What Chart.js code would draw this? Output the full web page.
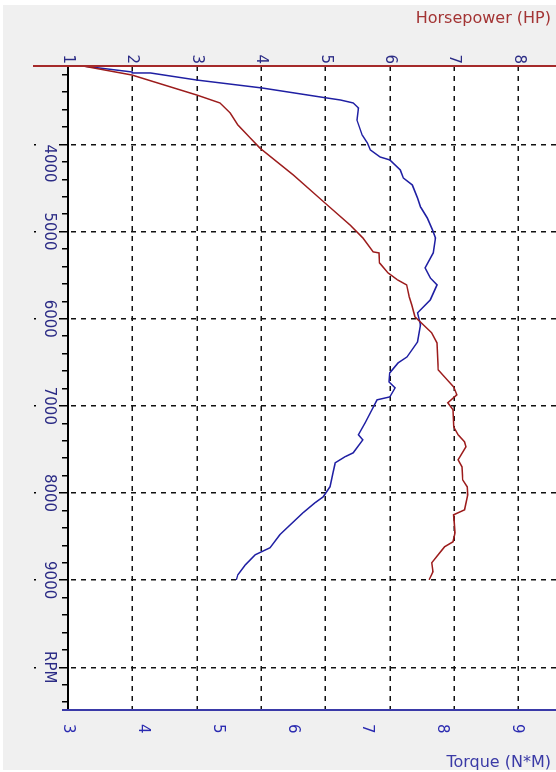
<!DOCTYPE html>
<html>
<head>
<meta charset="utf-8">
<title>Dyno run</title>
<script src="https://cdn.jsdelivr.net/npm/chart.js@4/dist/chart.umd.min.js"></script>
<style>
  html, body { margin: 0; padding: 0; background: #ffffff; width: 556px; height: 772px; overflow: hidden; }
  #panel { position: absolute; left: 3px; top: 5px; width: 553px; height: 765px; background: #f0f0f0; }
  /* the chart is laid out with RPM running left to right, then turned a quarter clockwise */
  #wrap { position: absolute; left: 0; top: 0; width: 772px; height: 556px;
          transform-origin: 0 0; transform: translate(556px, 0) rotate(90deg); }
  .axis-title { position: absolute; right: 5px; font-family: "DejaVu Sans", sans-serif; font-size: 16px; white-space: nowrap; }
  #hpTitle { top: 8px; color: #a33434; }
  #tqTitle { top: 752px; color: #3a3aa6; }
</style>
</head>
<body>
<div id="panel"></div>
<div id="wrap"><canvas id="dyno" width="772" height="556"></canvas></div>
<div id="hpTitle" class="axis-title">Horsepower (HP)</div>
<div id="tqTitle" class="axis-title">Torque (N*M)</div>
<script>
// Horsepower curve
const hpRpm = [3100, 3203, 3433, 3524, 3639, 3777, 3926, 4041, 4350, 4671,
               4924, 5073, 5233, 5245, 5360, 5474, 5555, 5612, 5750, 5841,
               5979, 6036, 6162, 6277, 6587, 6702, 6782, 6874, 6965, 7046,
               7241, 7332, 7413, 7470, 7619, 7699, 7849, 7929, 8021, 8193,
               8250, 8457, 8560, 8617, 8709, 8801, 8904, 8996];
const hpValues = [1.23, 1.99, 3.00, 3.36, 3.52, 3.64, 3.83, 3.98, 4.50, 4.99,
                  5.38, 5.58, 5.74, 5.83, 5.84, 5.97, 6.12, 6.26, 6.30, 6.34,
                  6.39, 6.47, 6.65, 6.73, 6.75, 6.89, 6.99, 7.04, 6.90, 6.98,
                  6.99, 7.06, 7.16, 7.18, 7.06, 7.12, 7.13, 7.20, 7.21, 7.16,
                  6.99, 7.01, 6.98, 6.85, 6.75, 6.65, 6.67, 6.61];

// Torque curve
const tqRpm = [3100, 3169, 3180, 3261, 3352, 3467, 3490, 3524, 3582, 3719,
               3891, 3983, 4063, 4144, 4178, 4293, 4385, 4465, 4614, 4717,
               4843, 4981, 5073, 5245, 5417, 5532, 5612, 5784, 5933, 6071,
               6266, 6438, 6507, 6621, 6725, 6793, 6897, 6931, 7046, 7195,
               7332, 7390, 7539, 7585, 7654, 7768, 7929, 8044, 8112, 8227,
               8365, 8479, 8628, 8709, 8824, 8938, 8996];
const tqValues = [3.20, 3.86, 4.10, 4.72, 5.59, 6.46, 6.64, 6.81, 6.88, 6.86,
                  6.93, 7.00, 7.04, 7.17, 7.30, 7.44, 7.48, 7.60, 7.67, 7.71,
                  7.80, 7.87, 7.91, 7.88, 7.77, 7.84, 7.93, 7.84, 7.67, 7.71,
                  7.67, 7.53, 7.41, 7.30, 7.29, 7.37, 7.30, 7.13, 7.06, 6.97,
                  6.88, 6.94, 6.81, 6.70, 6.57, 6.54, 6.50, 6.41, 6.30, 6.14,
                  5.97, 5.83, 5.70, 5.50, 5.37, 5.27, 5.25];

// RPM axis: labelled ticks every 1000, the last one carries the axis name
const rpmMajor  = [4000, 5000, 6000, 7000, 8000, 9000, 10000];
const rpmLabels = ['4000', '5000', '6000', '7000', '8000', '9000', 'RPM'];
const rpmMinorStep = 200;

// axis ranges
const rpmRange = [3100, 10490];
const hpRange  = [1, 8.58];
const tqRange  = [3, 9.52];

const tickFont  = { family: 'DejaVu Sans', size: 15 };
const tickColor = '#2b2b85';

const toPoints = (rpm, vals) => rpm.map((r, i) => ({ x: r, y: vals[i] }));
const isMajor = ctx => !!(ctx && ctx.tick) && rpmMajor.includes(ctx.tick.value);
const flatten = s => { s.paddingLeft = 0; s.paddingRight = 0; s.paddingTop = 0; s.paddingBottom = 0; };

// RPM tick marks every 200 inside the axis range
function rpmTicks(scale) {
  const out = [];
  const first = Math.ceil(rpmRange[0] / rpmMinorStep) * rpmMinorStep;
  for (let v = first; v <= rpmRange[1]; v += rpmMinorStep) out.push({ value: v });
  scale.ticks = out;
}

// white plot area plus the coloured value-axis lines
const frame = {
  id: 'frame',
  beforeDraw(chart) {
    const { ctx, chartArea: a } = chart;
    ctx.save();
    ctx.fillStyle = '#ffffff';
    ctx.fillRect(a.left, a.top, a.right - a.left, a.bottom - a.top);
    ctx.restore();
  },
  afterDraw(chart) {
    const { ctx, chartArea: a } = chart;
    ctx.save();
    ctx.lineWidth = 2;
    ctx.strokeStyle = '#a52a2a';
    ctx.beginPath(); ctx.moveTo(a.left, a.top); ctx.lineTo(a.left, a.bottom + 35); ctx.stroke();
    ctx.strokeStyle = '#3a3aa8';
    ctx.beginPath(); ctx.moveTo(a.right, a.top); ctx.lineTo(a.right, a.bottom + 6); ctx.stroke();
    ctx.restore();
  }
};

new Chart(document.getElementById('dyno'), {
  type: 'line',
  data: {
    datasets: [
      { label: 'Horsepower (HP)', data: toPoints(hpRpm, hpValues), yAxisID: 'hp',
        borderColor: '#9c1c1c', borderWidth: 1.5 },
      { label: 'Torque (N*M)', data: toPoints(tqRpm, tqValues), yAxisID: 'tq',
        borderColor: '#1f1fa3', borderWidth: 1.5 }
    ]
  },
  options: {
    responsive: false,
    animation: false,
    devicePixelRatio: 1,
    layout: { padding: 0 },
    elements: { point: { radius: 0 }, line: { tension: 0 } },
    plugins: { legend: { display: false }, tooltip: { enabled: false } },
    scales: {
      x: {
        type: 'linear', position: 'bottom',
        min: rpmRange[0], max: rpmRange[1],
        afterBuildTicks: rpmTicks,
        afterFit: s => { s.height = 68; flatten(s); },
        border: { display: true, color: '#000000', width: 2,
                  dash: ctx => isMajor(ctx) ? [5, 5] : [] },
        grid: {
          color: ctx => isMajor(ctx) ? '#111111' : 'rgba(0,0,0,0)',
          lineWidth: 1.5,
          tickLength: 34,
          tickColor: '#000000',
          tickWidth: 1.5,
          tickBorderDash: ctx => isMajor(ctx) ? [8, 23, 3, 100] : [5, 100]
        },
        ticks: {
          autoSkip: false,
          minRotation: 0, maxRotation: 0,
          padding: -24, color: tickColor, font: tickFont,
          callback: v => {
            const i = rpmMajor.indexOf(v);
            if (i < 0) return '';
            // the first label hangs below its tick instead of centring on it
            return (i === 0 ? '\u2007\u2007\u2007\u2007' : '') + rpmLabels[i];
          }
        }
      },
      hp: {
        type: 'linear', position: 'left',
        min: hpRange[0], max: hpRange[1],
        afterFit: s => { s.width = 66; flatten(s); },
        border: { display: false, dash: [5, 5] },
        grid: { color: '#111111', lineWidth: 1.5, drawTicks: false },
        ticks: { stepSize: 1, includeBounds: false, padding: 2, color: tickColor, font: tickFont }
      },
      tq: {
        type: 'linear', position: 'right',
        min: tqRange[0], max: tqRange[1],
        afterFit: s => { s.width = 62; flatten(s); },
        border: { display: false },
        grid: { display: false, drawTicks: false },
        ticks: { stepSize: 1, includeBounds: false, padding: 14, color: '#2a2ab0', font: tickFont }
      }
    }
  },
  plugins: [frame]
});
</script>
</body>
</html>
